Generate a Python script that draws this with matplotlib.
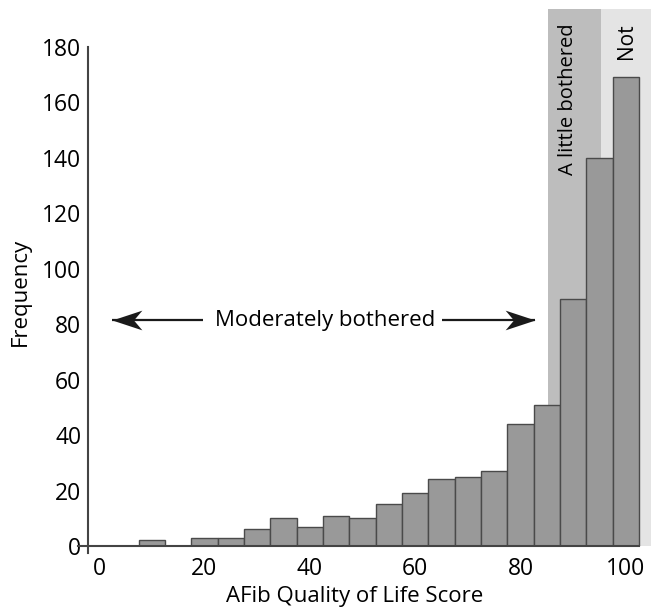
import matplotlib
matplotlib.use("Agg")
import matplotlib.pyplot as plt
from matplotlib.path import Path

# data
bin_centers = [10, 15, 20, 25, 30, 35, 40, 45, 50, 55, 60, 65, 70, 75, 80, 85, 90, 95, 100]
counts = [2, 0, 3, 3, 6, 10, 7, 11, 10, 15, 19, 24, 25, 27, 44, 51, 89, 140, 169]
bin_width = 5
x_ticks = [0, 20, 40, 60, 80, 100]
y_ticks = [0, 20, 40, 60, 80, 100, 120, 140, 160, 180]
region_little = (85.2, 95.3)
region_not = (95.3, 106)
arrow_y = 81.5
left_arrow = (19.7, 2.4)     # (tail, tip)
right_arrow = (65.0, 82.7)   # (tail, tip)

plt.rcParams['font.family'] = ['Open Sans', 'DejaVu Sans']

fig = plt.figure(figsize=(6.51, 6.12), dpi=100)
W, H = 651, 612
left_px, right_px = 88.3, 651
bottom_px, top_px = 546, 9.3
ax = fig.add_axes([left_px / W, (H - bottom_px) / H, (right_px - left_px) / W, (bottom_px - top_px) / H])

x0_px, scale = 99.0, 5.27
ax.set_xlim((left_px - x0_px) / scale, (right_px - x0_px) / scale)
ax.set_ylim(0, 193.6)

ax.axvspan(*region_little, color='#bdbdbd', lw=0, zorder=0)
ax.axvspan(*region_not, color='#e4e4e4', lw=0, zorder=0)

ax.bar(bin_centers, counts, width=bin_width, color='#999999', edgecolor='#4a4a4a', linewidth=1.0, zorder=2)

for s in ['top', 'right']:
    ax.spines[s].set_visible(False)
ax.spines['left'].set_bounds(-2.5, 180)
ax.spines['bottom'].set_bounds(-4.0, 102.5)
for s in ['left', 'bottom']:
    ax.spines[s].set_color('#444444')
    ax.spines[s].set_linewidth(1.5)
    ax.spines[s].set_zorder(3)

ax.set_xticks(x_ticks)
ax.set_yticks(y_ticks)
ax.tick_params(axis='x', length=0, pad=8, labelsize=16.5)
ax.tick_params(axis='y', length=0, pad=5, labelsize=16.5)

ax.text(0.474, -0.095, 'AFib Quality of Life Score', transform=ax.transAxes,
        ha='center', va='center', fontsize=16)
ax.text(20 / W, (H - 292) / H, 'Frequency', transform=fig.transFigure, rotation=90,
        ha='center', va='center', fontsize=16)

ax.text(43, arrow_y, 'Moderately bothered', ha='center', va='center', fontsize=16, zorder=4)

# concave arrowhead marker (tip at origin)
head_right = Path([(0, 0), (-1, 0.33), (-0.72, 0), (-1, -0.33), (0, 0)],
                  [Path.MOVETO, Path.LINETO, Path.LINETO, Path.LINETO, Path.CLOSEPOLY])
head_left = Path([(0, 0), (1, 0.33), (0.72, 0), (1, -0.33), (0, 0)],
                 [Path.MOVETO, Path.LINETO, Path.LINETO, Path.LINETO, Path.CLOSEPOLY])
arrow_color = '#1a1a1a'
for (tail, tip), head in [(left_arrow, head_left), (right_arrow, head_right)]:
    ax.plot([tail, tip], [arrow_y, arrow_y], color=arrow_color, lw=1.6, solid_capstyle='butt', zorder=4)
    ax.plot([tip], [arrow_y], marker=head, markersize=43, color=arrow_color,
            markeredgewidth=0, linestyle='none', zorder=5)

ax.text(89, 188.7, 'A little bothered', rotation=90, ha='center', va='top', fontsize=14.5, zorder=4)
ax.text(100.1, 188.7, 'Not', rotation=90, ha='center', va='top', fontsize=15, zorder=4)

fig.savefig('out.png', dpi=100)
